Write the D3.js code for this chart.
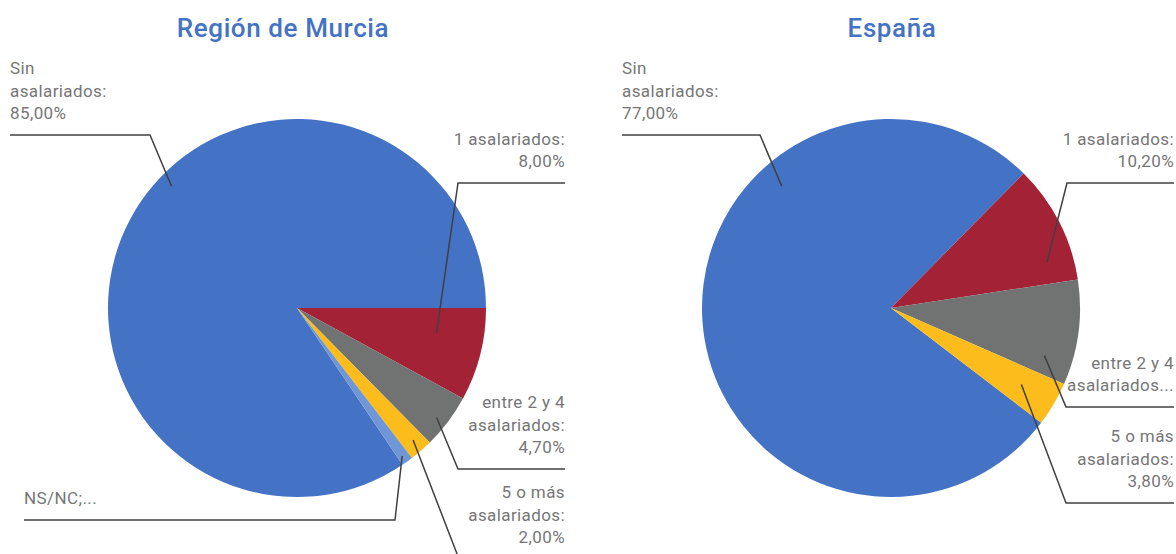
<!DOCTYPE html>
<html>
<head>
<meta charset="utf-8">
<script src="https://cdn.jsdelivr.net/npm/d3@7"></script>
<style>
  body { margin: 0; background: #fff; }
  svg text { font-family: Roboto, "Noto Sans", sans-serif; }
</style>
</head>
<body>
<div id="chart"></div>
<script>
// data
const categories = ["Sin asalariados", "1 asalariados", "entre 2 y 4 asalariados", "5 o más asalariados", "NS/NC"];
const murciaValues = [85.0, 8.0, 4.7, 2.0, 1.0];
const espanaValues = [77.0, 10.2, 9.0, 3.8, 0];
const murciaLabels = [
    ["Sin", "asalariados:", "85,00%"],
    ["1 asalariados:", "8,00%"],
    ["entre 2 y 4", "asalariados:", "4,70%"],
    ["5 o más", "asalariados:", "2,00%"],
    ["NS/NC;..."],
];
const espanaLabels = [
    ["Sin", "asalariados:", "77,00%"],
    ["1 asalariados:", "10,20%"],
    ["entre 2 y 4", "asalariados..."],
    ["5 o más", "asalariados:", "3,80%"],
    null,
];
const colors = ["#4472c4", "#a32236", "#717372", "#fbbc1c", "#7097d5"];

const width = 1176;
const height = 554;
const radius = 189;
const lineH = 22.5;

const svg = d3
    .select("div#chart")
    .append("svg")
    .attr("width", width)
    .attr("height", height);

// layout of each pie: centre, rotation and leader lines (t = position inside slice, k = radius fraction)
const pies = [
    {
        title: "Región de Murcia",
        titleX: 283,
        cx: 297,
        start: 146.1,
        values: murciaValues,
        labels: murciaLabels,
        leaders: [
            { t: 0.553, k: 0.925, ex: 150, ey: 135, lx: 10, align: "start" },
            { t: 0.353, k: 0.75, ex: 458, ey: 183, lx: 565, align: "end" },
            { t: 0.57, k: 0.94, ex: 458, ey: 469, lx: 565, align: "end" },
            { t: 0.46, k: 0.93, ex: 459, ey: 559, lx: 565, align: "end" },
            { t: 0.57, k: 0.96, ex: 395, ey: 520, lx: 24, align: "start" },
        ],
    },
    {
        title: "España",
        titleX: 892,
        cx: 891,
        start: 127.4,
        values: espanaValues,
        labels: espanaLabels,
        leaders: [
            { t: 0.688, k: 0.866, ex: 760, ey: 135, lx: 622, align: "start" },
            { t: 0.79, k: 0.86, ex: 1067, ey: 183, lx: 1174, align: "end" },
            { t: 0.8, k: 0.85, ex: 1066, ey: 407, lx: 1174, align: "end" },
            { t: 0.49, k: 0.8, ex: 1066, ey: 503, lx: 1174, align: "end" },
            null,
        ],
    },
];

const cy = 308;
const rad = (deg) => (deg * Math.PI) / 180;

pies.forEach((p) => {
    const data = categories.map((c, i) => ({ cat: c, value: p.values[i], i: i }));

    const pie = d3
        .pie()
        .sort(null)
        .value((d) => d.value)
        .startAngle(rad(p.start))
        .endAngle(rad(p.start + 360));

    const arcs = pie(data);
    const arc = d3.arc().innerRadius(0).outerRadius(radius);

    const g = svg.append("g").attr("transform", `translate(${p.cx},${cy})`);

    g.selectAll("path")
        .data(arcs.filter((d) => d.value > 0))
        .enter()
        .append("path")
        .attr("d", arc)
        .attr("fill", (d) => colors[d.data.i]);

    // title
    svg.append("text")
        .attr("x", p.titleX)
        .attr("y", 37)
        .attr("text-anchor", "middle")
        .attr("fill", "#4472c4")
        .attr("font-size", 26)
        .attr("font-weight", 500)
        .attr("letter-spacing", 0.6)
        .text(p.title);

    // leader lines + labels
    arcs.forEach((a, i) => {
        const L = p.leaders[i];
        const lines = p.labels[i];
        if (!L || !lines) return;
        const ang = a.startAngle + L.t * (a.endAngle - a.startAngle);
        const ax = p.cx + Math.sin(ang) * radius * L.k;
        const ay = cy - Math.cos(ang) * radius * L.k;

        svg.append("path")
            .attr("d", d3.line()([[ax, ay], [L.ex, L.ey], [L.lx, L.ey]]))
            .attr("fill", "none")
            .attr("stroke", "#404040")
            .attr("stroke-width", 1.5);

        const t = svg
            .append("text")
            .attr("text-anchor", L.align)
            .attr("fill", "#767676")
            .attr("font-size", 17)
            .attr("letter-spacing", 0.4);
        lines.forEach((s, j) => {
            t.append("tspan")
                .attr("x", L.lx)
                .attr("y", L.ey - 16 - (lines.length - 1 - j) * lineH)
                .text(s);
        });
    });
});
</script>
</body>
</html>
